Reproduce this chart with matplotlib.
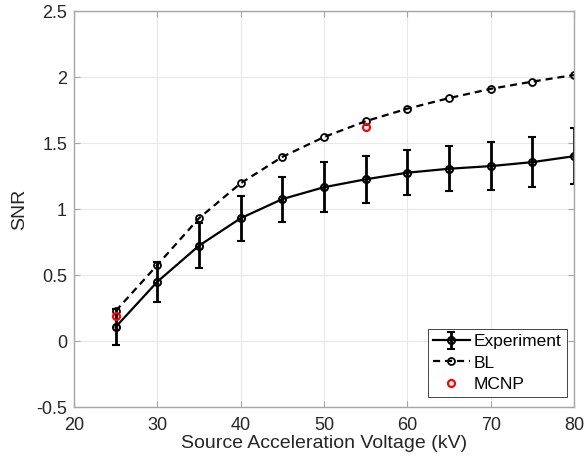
import matplotlib
matplotlib.use("Agg")
import matplotlib.pyplot as plt

plt.rcParams['font.family'] = ['Liberation Sans', 'DejaVu Sans']

voltage = [25, 30, 35, 40, 45, 50, 55, 60, 65, 70, 75, 80]
exp_snr = [0.106, 0.449, 0.722, 0.93, 1.075, 1.165, 1.225, 1.275, 1.305, 1.325, 1.355, 1.40]
exp_err = [0.136, 0.15, 0.17, 0.17, 0.17, 0.19, 0.18, 0.17, 0.17, 0.18, 0.19, 0.21]
bl_snr = [0.227, 0.576, 0.93, 1.195, 1.395, 1.545, 1.665, 1.76, 1.84, 1.91, 1.965, 2.015]
mcnp_v = [25, 55]
mcnp_snr = [0.19, 1.62]

fig = plt.figure(figsize=(5.87, 4.61), dpi=100)
ax = fig.add_axes([74/587, 1 - 407/461, 500/587, 396/461])

h_exp = ax.errorbar(voltage, exp_snr, yerr=exp_err, color='black', lw=1.6, marker='o',
                    ms=5, mfc='none', mew=1.5, capsize=3, elinewidth=2, capthick=2,
                    label='Experiment')
h_bl, = ax.plot(voltage, bl_snr, color='black', ls='--', lw=1.6, dashes=(3.2, 2.2), marker='o',
                ms=5, mfc='none', mew=1.3, label='BL')
h_mc, = ax.plot(mcnp_v, mcnp_snr, ls='none', marker='o', ms=5, mfc='none', mec='red',
                mew=1.6, label='MCNP')

ax.set_xlim(20, 80)
ax.set_ylim(-0.5, 2.5)
ax.set_xticks(range(20, 81, 10))
ax.set_yticks([-0.5, 0, 0.5, 1, 1.5, 2, 2.5])
ax.set_yticklabels(['-0.5', '0', '0.5', '1', '1.5', '2', '2.5'])
ax.grid(True, color='#e8e8e8', lw=0.8)
ax.set_axisbelow(True)
for s in ax.spines.values():
    s.set_color('#a6a6a6')
    s.set_linewidth(1.0)
ax.tick_params(direction='in', top=True, right=True, labelsize=13,
               color='#a6a6a6', labelcolor='#262626', length=4, width=0.8)
ax.tick_params(axis='x', pad=7)
ax.tick_params(axis='y', pad=5)
ax.set_xlabel('Source Acceleration Voltage (kV)', fontsize=14, color='#262626', labelpad=1)
ax.set_ylabel('SNR', fontsize=14, color='#262626', labelpad=6)

leg = ax.legend([h_exp, h_bl, h_mc], ['Experiment', 'BL', 'MCNP'],
                loc='lower right', fontsize=12.5, frameon=True, fancybox=False,
                edgecolor='#262626', framealpha=1, borderpad=0.3, borderaxespad=0,
                handlelength=2.1, handletextpad=0.25, labelspacing=0.35,
                bbox_to_anchor=(493/500, 10/396))
leg.get_frame().set_linewidth(0.6)

fig.savefig('out.png', dpi=100)
